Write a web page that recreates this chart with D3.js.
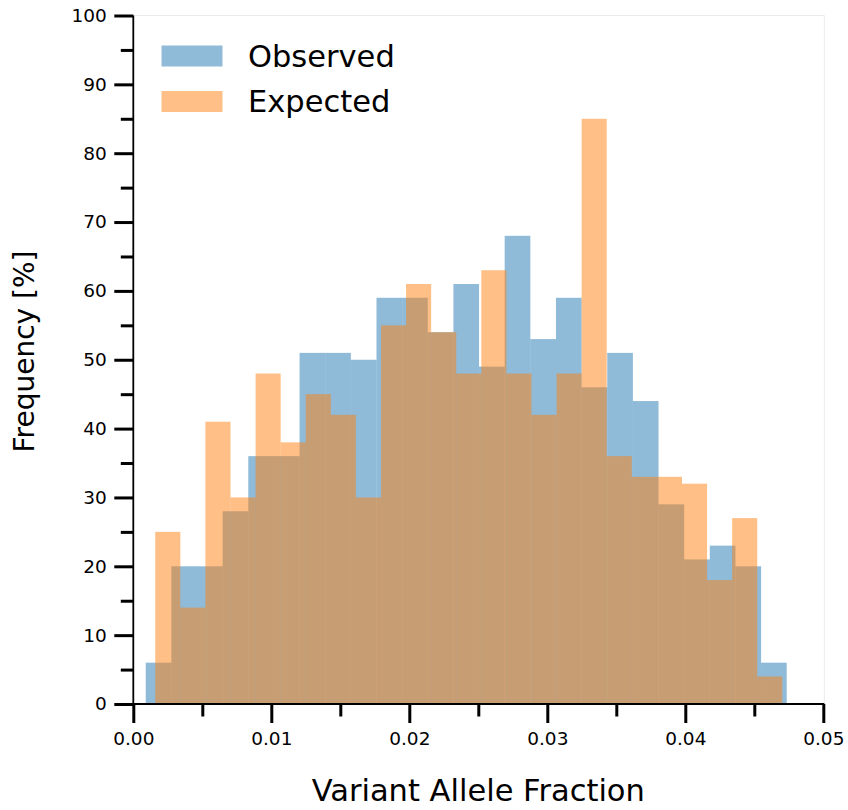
<!DOCTYPE html>
<html>
<head>
  <meta charset="utf-8">
  <title>Variant Allele Fraction Histogram</title>
  <script src="https://d3js.org/d3.v7.min.js"></script>
  <style>
    body { margin: 0; background: #fff; }
    svg { display: block; font-family: "DejaVu Sans", sans-serif; }
  </style>
</head>
<body>
  <div id="chart"></div>
  <script>
    // Histogram counts, 25 bins each
    const observedCounts = [6, 20, 20, 28, 36, 36, 51, 51, 50, 59, 59, 54, 61,
                            49, 68, 53, 59, 46, 51, 44, 29, 21, 23, 20, 6];
    const expectedCounts = [25, 14, 41, 30, 48, 38, 45, 42, 30, 55, 61, 54, 48,
                            63, 48, 42, 48, 85, 36, 33, 33, 32, 18, 27, 4];
    // data range of each series (bins span min..max, equal width)
    const observedRange = [0.00090, 0.04735];
    const expectedRange = [0.00159, 0.04703];

    const seriesNames = ["Observed", "Expected"];
    const seriesColors = ["#1f77b4", "#ff7f0e"];

    const xMajor = [0, 0.01, 0.02, 0.03, 0.04, 0.05];
    const xMinor = [0.005, 0.015, 0.025, 0.035, 0.045];
    const yMajor = [0, 10, 20, 30, 40, 50, 60, 70, 80, 90, 100];
    const yMinor = [5, 15, 25, 35, 45, 55, 65, 75, 85, 95];

    const W = 848, H = 810;
    const plotLeft = 133.3, plotRight = 823.3, plotTop = 15.5, plotBottom = 704;

    const svg = d3.select("#chart")
      .append("svg")
      .attr("width", W)
      .attr("height", H);

    const x = d3.scaleLinear().domain([0, 0.05]).range([plotLeft, plotRight]);
    const y = d3.scaleLinear().domain([0, 100]).range([plotBottom, plotTop]);

    // turn counts + range into bins
    function makeBins(counts, range) {
      const step = (range[1] - range[0]) / counts.length;
      return counts.map((c, i) => ({
        x0: range[0] + i * step,
        x1: range[0] + (i + 1) * step,
        count: c
      }));
    }

    const allSeries = [
      makeBins(observedCounts, observedRange),
      makeBins(expectedCounts, expectedRange)
    ];

    // light top / right frame
    svg.append("line")
      .attr("x1", plotLeft).attr("x2", plotRight + 1)
      .attr("y1", plotTop).attr("y2", plotTop)
      .attr("stroke", "#ebebeb").attr("stroke-width", 1);
    svg.append("line")
      .attr("x1", plotRight + 1).attr("x2", plotRight + 1)
      .attr("y1", plotTop).attr("y2", plotBottom)
      .attr("stroke", "#ebebeb").attr("stroke-width", 1);

    // bars
    allSeries.forEach((bins, s) => {
      svg.append("g")
        .selectAll("rect")
        .data(bins)
        .enter()
        .append("rect")
        .attr("x", d => x(d.x0))
        .attr("y", d => y(d.count))
        .attr("width", d => x(d.x1) - x(d.x0))
        .attr("height", d => y(0) - y(d.count))
        .attr("fill", seriesColors[s])
        .attr("fill-opacity", 0.5);
    });

    // axes
    function styleAxis(g, width) {
      g.select(".domain").remove();
      g.selectAll(".tick line").attr("stroke", "#000").attr("stroke-width", width);
      g.selectAll(".tick text")
        .attr("fill", "#000")
        .style("font-size", "18.5px")
        .style("font-family", "'DejaVu Sans', sans-serif");
    }

    svg.append("g")
      .attr("transform", `translate(0,${plotBottom})`)
      .call(d3.axisBottom(x).tickValues(xMinor).tickSize(12.5).tickFormat(""))
      .call(g => styleAxis(g, 3));
    svg.append("g")
      .attr("transform", `translate(0,${plotBottom})`)
      .call(d3.axisBottom(x).tickValues(xMajor).tickSize(19).tickPadding(8)
        .tickFormat(d3.format(".2f")))
      .call(g => styleAxis(g, 3))
      .selectAll(".tick text").attr("dy", "0.75em");

    svg.append("g")
      .attr("transform", `translate(${plotLeft},0)`)
      .call(d3.axisLeft(y).tickValues(yMinor).tickSize(12.5).tickFormat(""))
      .call(g => styleAxis(g, 3));
    svg.append("g")
      .attr("transform", `translate(${plotLeft},0)`)
      .call(d3.axisLeft(y).tickValues(yMajor).tickSize(19).tickPadding(7.5))
      .call(g => styleAxis(g, 3));

    // spines
    svg.append("line")
      .attr("x1", plotLeft).attr("x2", plotLeft)
      .attr("y1", plotTop).attr("y2", plotBottom + 1)
      .attr("stroke", "#000").attr("stroke-width", 1.8);
    svg.append("line")
      .attr("x1", plotLeft - 1).attr("x2", plotRight + 1)
      .attr("y1", plotBottom).attr("y2", plotBottom)
      .attr("stroke", "#000").attr("stroke-width", 1.8);

    // axis titles
    svg.append("text")
      .attr("x", (plotLeft + plotRight) / 2)
      .attr("y", 801)
      .attr("text-anchor", "middle")
      .style("font-size", "30.5px")
      .text("Variant Allele Fraction");

    svg.append("text")
      .attr("transform", "translate(34,351.5) rotate(-90)")
      .attr("text-anchor", "middle")
      .style("font-size", "28px")
      .text("Frequency [%]");

    // legend
    const legend = svg.append("g");
    seriesNames.forEach((name, i) => {
      legend.append("rect")
        .attr("x", 161.5)
        .attr("y", 45.5 + i * 45.5)
        .attr("width", 61)
        .attr("height", 21)
        .attr("fill", seriesColors[i])
        .attr("fill-opacity", 0.5);
      legend.append("text")
        .attr("x", 248)
        .attr("y", 66.7 + i * 45.5)
        .style("font-size", "30.5px")
        .text(name);
    });
  </script>
</body>
</html>
